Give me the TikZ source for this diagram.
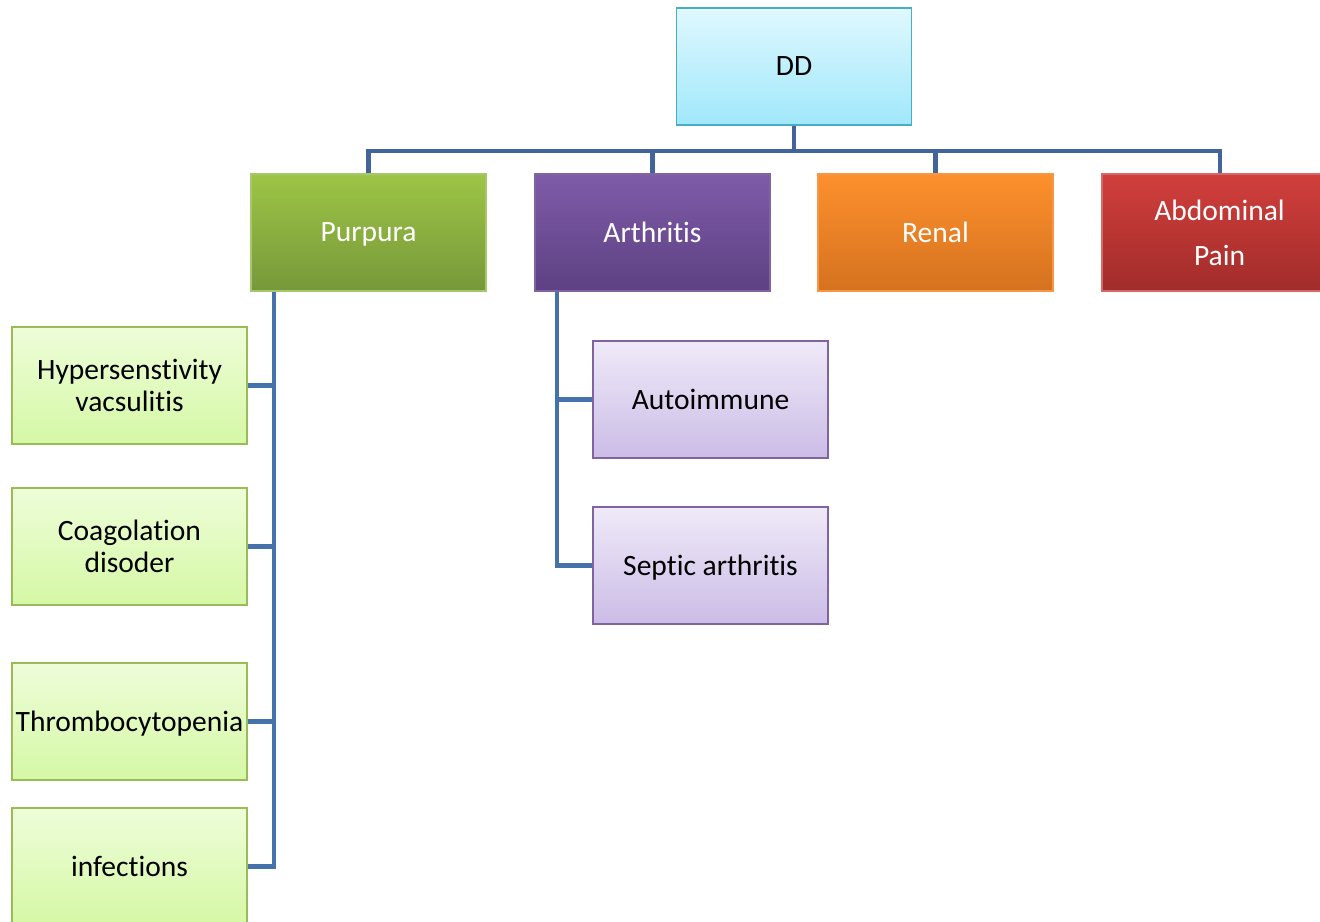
\documentclass[tikz,border=0pt]{standalone}
\usepackage{fontspec}
\setmainfont[RawFeature = {-liga;-clig;-calt;-dlig}]{Carlito}
\usepackage{xcolor}
\usepackage{tikz}
\definecolor{linkblue}{HTML}{4672AB}
\definecolor{linkdark}{HTML}{41659B}

\begin{document}
\begin{tikzpicture}[box/.style = {draw, line width = 0.5pt, minimum width = 2.35cm, minimum height = 1.17cm, inner xsep = 0.1mm, inner ysep = 0.5mm, align = center, font = \fontsize{8.4}{9.2}\selectfont},
        ddbox/.style = {box, draw = {rgb,255:red,75;green,172;blue,198}, top color = {rgb,255:red,224;green,248;blue,254}, bottom color = {rgb,255:red,160;green,232;blue,251}},
        greenbox/.style = {box, text = white, draw = {rgb,255:red,166;green,199;blue,107}, top color = {rgb,255:red,157;green,197;blue,70}, bottom color = {rgb,255:red,119;green,152;blue,58}},
        purplebox/.style = {box, text = white, draw = {rgb,255:red,128;green,100;blue,162}, top color = {rgb,255:red,127;green,91;blue,168}, bottom color = {rgb,255:red,93;green,65;blue,131}},
        orangebox/.style = {box, text = white, draw = {rgb,255:red,247;green,150;blue,70}, top color = {rgb,255:red,253;green,144;blue,45}, bottom color = {rgb,255:red,213;green,114;blue,31}},
        redbox/.style = {box, text = white, draw = {rgb,255:red,210;green,106;blue,104}, top color = {rgb,255:red,209;green,63;blue,60}, bottom color = {rgb,255:red,161;green,44;blue,42}},
        paleleaf/.style = {box, draw = {rgb,255:red,155;green,187;blue,89}, top color = {rgb,255:red,238;green,253;blue,217}, bottom color = {rgb,255:red,213;green,248;blue,165}},
        palelilac/.style = {box, draw = {rgb,255:red,128;green,100;blue,162}, top color = {rgb,255:red,239;green,234;blue,248}, bottom color = {rgb,255:red,203;green,188;blue,230}},
        flat/.style = {text depth = 0pt},
        link/.style = {draw = linkblue, line width = 1.15pt},
        toplink/.style = {draw = linkdark, line width = 1.15pt}]
        \useasboundingbox (0, 0) rectangle (13.2, -9.22);

        % root and first level
        \node [ddbox] (dd) at (7.94, -0.665) {DD};
        \node [greenbox, flat] (purpura) at (3.685, -2.325) {Purpura};
        \node [purplebox] (arthritis) at (6.525, -2.325) {Arthritis};
        \node [orangebox] (renal) at (9.355, -2.325) {Renal};
        \node [redbox, font = \fontsize{8.4}{12.8}\selectfont] (abdpain) at (12.195, -2.325) {Abdominal\\Pain};

        % causes of purpura
        \node [paleleaf] (hyper) at (1.295, -3.855) {Hypersenstivity\\vacsulitis};
        \node [paleleaf] (coag) at (1.295, -5.465) {Coagolation\\disoder};
        \node [paleleaf, flat] (thrombo) at (1.295, -7.215) {Thrombocytopenia};
        \node [paleleaf] (infect) at (1.295, -8.665) {infections};

        % causes of arthritis
        \node [palelilac] (autoimm) at (7.105, -3.995) {Autoimmune};
        \node [palelilac, flat] (septic) at (7.105, -5.655) {Septic arthritis};

        \coordinate (bus) at ([yshift = -2.5mm]dd.south);
        \foreach \child in {purpura, arthritis, renal, abdpain}
            \draw [toplink] (dd.south) -- (bus) -| (\child.north);

        \foreach \child in {hyper, coag, thrombo, infect}
            \draw [link] ([xshift = 2.4mm]purpura.south west) |- (\child.east);
        \foreach \child in {autoimm, septic}
            \draw [link] ([xshift = 2.3mm]arthritis.south west) |- (\child.west);
    \end{tikzpicture}
\end{document}
